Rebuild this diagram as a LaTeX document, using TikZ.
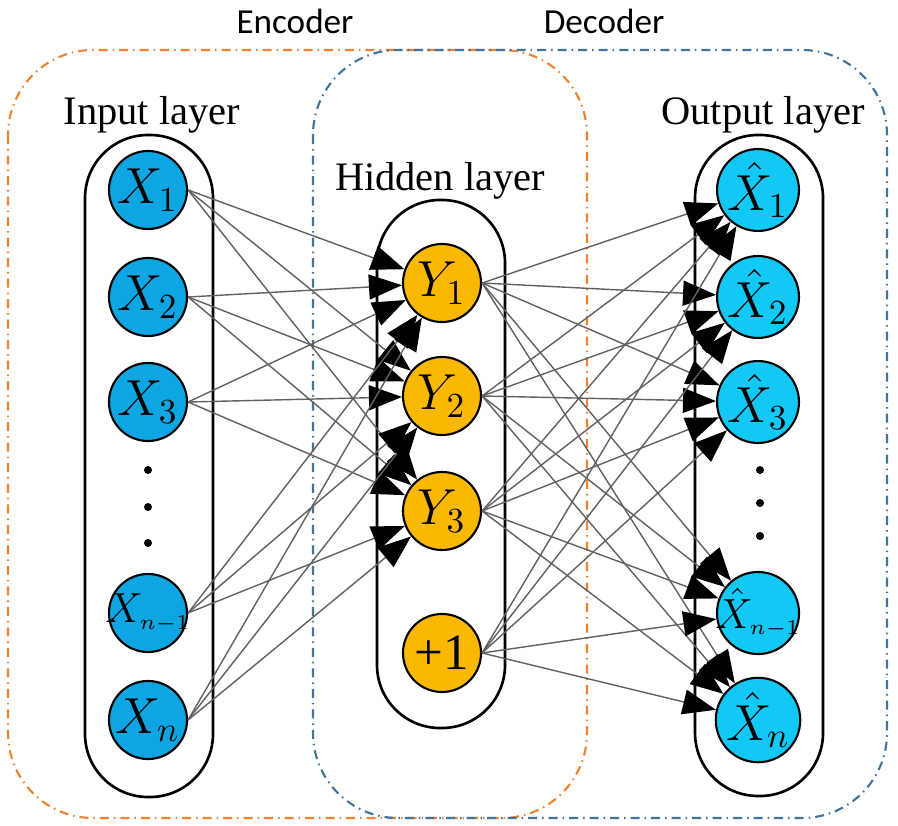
\documentclass[tikz,border=0pt]{standalone}
\usepackage{fontspec}
\setmainfont{Liberation Serif}
\newfontfamily\capfont{Carlito}
\usetikzlibrary{arrows.meta}
\definecolor{inblue}{RGB}{14,166,226}
\definecolor{outblue}{RGB}{18,200,245}
\definecolor{hidyellow}{RGB}{250,184,0}
\definecolor{encorange}{RGB}{240,130,50}
\definecolor{decblue}{RGB}{65,115,155}
\begin{document}
\begin{tikzpicture}[x=0.01cm,y=-0.01cm,
  unit/.style={shape=circle,draw,line width=0.6pt,minimum size=7.8mm,inner sep=0pt,font=\fontsize{14.5}{16}\selectfont},
  inode/.style={unit,fill=inblue},
  hnode/.style={unit,fill=hidyellow},
  onode/.style={unit,fill=outblue},
  small/.style={font=\fontsize{12.5}{14}\selectfont},
  capsule/.style={draw,line width=0.75pt,rounded corners=6.3mm},
  block/.style={line width=0.6pt,rounded corners=8.5mm,dash pattern=on 0.9mm off 0.5mm on 0.15mm off 0.5mm},
  layername/.style={font=\fontsize{11.5}{13}\selectfont},
  partname/.style={font=\capfont\fontsize{10}{12}\selectfont},
  conn/.style={draw=black!62,line width=0.4pt,-{Triangle[length=3.3mm,width=2.5mm,color=black]}}]
\useasboundingbox (0,0) rectangle (898,825);

% encoder / decoder
\draw[block,encorange] (8,50) rectangle (587,818);
\draw[block,decblue] (313,50) rectangle (887,818);
\node(enc) at (295,21)[partname] {Encoder};
\node(dec) at (604,21)[partname] {Decoder};

% layers
\draw[capsule] (85,135) rectangle (213,797);
\draw[capsule] (377,200) rectangle (505,728);
\draw[capsule] (695,135) rectangle (823,796);
\node(inname) at (152,115)[layername] {Input layer};
\node(hidname) at (440,181)[layername] {Hidden layer};
\node(outname) at (763,115)[layername] {Output layer};

\node(i1) at (148,190)[inode] {$X_1$};
\node(i2) at (148,297)[inode] {$X_2$};
\node(i3) at (148,402)[inode] {$X_3$};
\node(i4) at (148,613)[inode,small] {\makebox[6.6mm]{$X_{\scriptscriptstyle n-1}$}};
\node(i5) at (148,720)[inode] {$X_n$};

\node(h1) at (442,283)[hnode] {$Y_1$};
\node(h2) at (442,396)[hnode] {$Y_2$};
\node(h3) at (442,511)[hnode] {$Y_3$};
\node(h4) at (442,653)[hnode] {+1};

\node(o1) at (758,190)[onode] {$\hat{X}_1$};
\node(o2) at (758,297)[onode] {$\hat{X}_2$};
\node(o3) at (758,402)[onode] {$\hat{X}_3$};
\node(o4) at (758,613)[onode,small] {\makebox[6.6mm]{$\hat{X}_{\scriptscriptstyle n-1}$}};
\node(o5) at (758,720)[onode] {$\hat{X}_n$};

\fill (148,470) circle (0.4mm) (148,507) circle (0.4mm) (148,543) circle (0.4mm);
\fill (760,470) circle (0.4mm) (760,503) circle (0.4mm) (760,536) circle (0.4mm);

\path [every edge/.style=conn]
  (i1.east) edge (h1)
  (i1.east) edge (h2)
  (i1.east) edge (h3)
  (i2.east) edge (h1)
  (i2.east) edge (h2)
  (i2.east) edge (h3)
  (i3.east) edge (h1)
  (i3.east) edge (h2)
  (i3.east) edge (h3)
  (i4.east) edge (h1)
  (i4.east) edge (h2)
  (i4.east) edge (h3)
  (i5.east) edge (h1)
  (i5.east) edge (h2)
  (i5.east) edge (h3);

\path [every edge/.style=conn]
  (h1.east) edge (o1)
  (h1.east) edge (o2)
  (h1.east) edge (o3)
  (h1.east) edge (o4)
  (h1.east) edge (o5)
  (h2.east) edge (o1)
  (h2.east) edge (o2)
  (h2.east) edge (o3)
  (h2.east) edge (o4)
  (h2.east) edge (o5)
  (h3.east) edge (o1)
  (h3.east) edge (o2)
  (h3.east) edge (o3)
  (h3.east) edge (o4)
  (h3.east) edge (o5)
  (h4.east) edge (o1)
  (h4.east) edge (o2)
  (h4.east) edge (o3)
  (h4.east) edge (o4)
  (h4.east) edge (o5);
\end{tikzpicture}
\end{document}
